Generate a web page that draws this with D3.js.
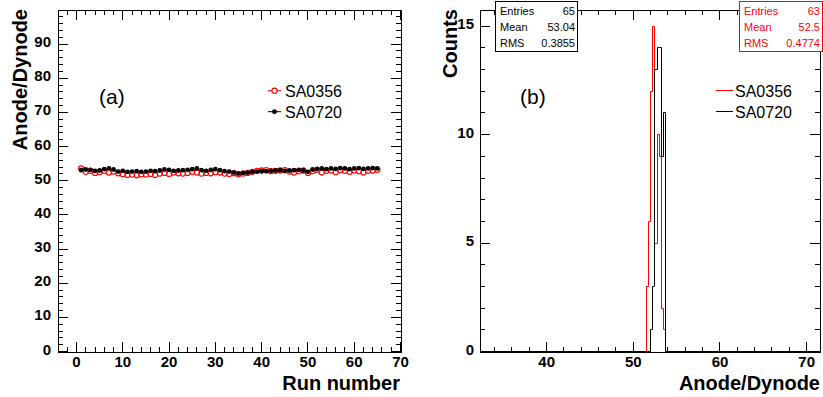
<!DOCTYPE html>
<html><head><meta charset="utf-8">
<script src="https://cdn.jsdelivr.net/npm/d3@7"></script>
<style>
html,body{margin:0;padding:0;background:#fff;}
svg{display:block;font-family:"Liberation Sans",Arial,sans-serif;}
</style></head>
<body>
<svg id="c" width="823" height="397"></svg>
<script>
// ---------- data ----------
const runs = d3.range(1, 66);
const sa0356Ratio = [53.6,52.6,52.9,52.3,52.5,52.9,52.4,52.7,52.2,51.9,
  51.7,51.8,51.6,51.9,51.8,52.0,51.7,52.1,52.3,52.0,
  52.4,52.2,52.1,52.3,52.6,52.4,52.1,52.3,52.2,52.5,
  52.4,52.1,52.0,52.2,51.9,52.1,52.3,52.6,52.9,53.0,
  53.1,52.8,52.9,53.0,53.1,52.7,52.4,52.8,53.0,52.3,
  52.8,53.2,52.4,52.9,53.0,52.5,53.1,52.9,52.6,53.0,
  52.8,52.4,52.9,53.0,53.2];
const sa0720Ratio = [53.1,53.3,53.2,52.9,53.0,53.4,53.6,53.3,52.7,52.9,
  52.6,52.7,52.8,52.6,52.7,52.9,52.8,53.0,53.3,53.2,
  52.9,53.0,53.1,53.2,53.4,53.6,53.1,52.9,53.2,53.4,
  53.1,52.8,52.7,52.4,52.1,52.3,52.4,52.6,52.7,52.8,
  52.8,52.9,53.0,53.1,52.9,53.0,53.1,53.2,53.0,52.6,
  53.3,53.5,53.6,53.4,53.6,53.5,53.7,53.6,53.4,53.6,
  53.7,53.5,53.6,53.7,53.6];
// histogram bins (low edges + last upper edge) and counts
const sa0356Edges = [51.5,51.75,52.0,52.25,52.5,52.75,53.0,53.25,53.5,53.75];
const sa0356Counts = [3,6,12,15,5,10,9,2,1];
const sa0720Edges = [52.0,52.25,52.5,52.75,53.0,53.25,53.5,53.75];
const sa0720Counts = [1,3,13,14,14,9,11];
const statsSA0720 = [["Entries","65"],["Mean","53.04"],["RMS","0.3855"]];
const statsSA0356 = [["Entries","63"],["Mean","52.5"],["RMS","0.4774"]];
const leftYTicks = [0,10,20,30,40,50,60,70,80,90];
const leftXTicks = [0,10,20,30,40,50,60,70];
const rightXTicks = [40,50,60,70];
const rightYTicks = [0,5,10,15];
const seriesNames = ["SA0356","SA0720"];

// ---------- layout ----------
const svg = d3.select("#c");
const RED = "#ff0000";
const topY = 10, botY = 351.5;
const xL = d3.scaleLinear([-4, 70], [58, 400.5]);
const yL = d3.scaleLinear([0, 100], [botY, topY]);
const xR = d3.scaleLinear([32.31, 71.54], [480, 820]);
const yR = d3.scaleLinear([0, 15.75], [botY, topY]);

function snap(v){ return Math.round(v - 0.5) + 0.5; }

function drawTicks(g, xs, ys, xMajor, xMinor, yMajor, yMinor){
  const [x0,x1] = xs.range(), [y0,y1] = ys.range();
  const tk = g.append("g").attr("stroke","#000").attr("stroke-width",1).attr("shape-rendering","crispEdges");
  const xt = (vals, len) => vals.forEach(v => {
    const px = snap(xs(v));
    if (px < x0 || px > x1) return;
    tk.append("line").attr("x1",px).attr("x2",px).attr("y1",y0).attr("y2",y0-len);
    tk.append("line").attr("x1",px).attr("x2",px).attr("y1",y1).attr("y2",y1+len);
  });
  const yt = (vals, len) => vals.forEach(v => {
    const py = snap(ys(v));
    if (py > y0 + 0.6 || py < y1 - 0.6) return;
    tk.append("line").attr("x1",x0).attr("x2",x0+len).attr("y1",py).attr("y2",py);
    tk.append("line").attr("x1",x1).attr("x2",x1-len).attr("y1",py).attr("y2",py);
  });
  xt(xMinor, 5); xt(xMajor, 10); yt(yMinor, 5); yt(yMajor, 10);
  g.append("rect").attr("x",snap(x0)).attr("y",snap(y1)).attr("width",Math.round(x1-x0)).attr("height",Math.round(y0-y1))
    .attr("fill","none").attr("stroke","#000").attr("shape-rendering","crispEdges");
}

// ---------- left panel ----------
const gL = svg.append("g");
gL.append("g").selectAll("circle").data(runs).join("circle")
  .attr("cx", (d,i) => xL(d)).attr("cy", (d,i) => yL(sa0356Ratio[i]))
  .attr("r", 2.6).attr("fill","none").attr("stroke",RED).attr("stroke-width",1.1);
gL.append("g").selectAll("circle").data(runs).join("circle")
  .attr("cx", (d,i) => xL(d)).attr("cy", (d,i) => yL(sa0720Ratio[i]))
  .attr("r", 2.4).attr("fill","#000");

drawTicks(gL, xL, yL, leftXTicks, d3.range(-4, 71, 2), leftYTicks, d3.range(0, 101, 2));

gL.append("g").attr("font-size",15).attr("font-weight","bold").attr("text-anchor","end")
  .selectAll("text").data(leftYTicks).join("text")
  .attr("x", 51).attr("y", d => yL(d) + 3).text(d => d);
gL.append("g").attr("font-size",15).attr("font-weight","bold").attr("text-anchor","middle")
  .selectAll("text").data(leftXTicks).join("text")
  .attr("x", d => xL(d)).attr("y", 367).text(d => d);

gL.append("text").attr("font-size",20).attr("font-weight","bold").attr("text-anchor","end")
  .attr("x", 400).attr("y", 390).text("Run number");
gL.append("text").attr("font-size",20).attr("font-weight","bold").attr("text-anchor","end")
  .attr("transform","translate(27,9) rotate(-90)").text("Anode/Dynode");
gL.append("text").attr("font-size",21).attr("x", 99).attr("y", 104).text("(a)");

const legL = gL.append("g");
[[RED, true, 96.5],["#000", false, 117.5]].forEach(([c, open, by], i) => {
  const cy = by - 5.8;
  legL.append("line").attr("x1",268).attr("x2",281).attr("y1",cy).attr("y2",cy).attr("stroke",c);
  if (open) legL.append("circle").attr("cx",274.5).attr("cy",cy).attr("r",2.6).attr("fill","#fff").attr("stroke",c).attr("stroke-width",1.1);
  else legL.append("circle").attr("cx",274.5).attr("cy",cy).attr("r",2.4).attr("fill",c);
  legL.append("text").attr("font-size",16).attr("x",285).attr("y",by).text(seriesNames[i]);
});

// ---------- right panel ----------
const gR = svg.append("g");
function histPath(edges, counts){
  const [a,b] = xR.domain();
  const pts = [[xR(a), yR(0)], [xR(edges[0]), yR(0)]];
  counts.forEach((c,i) => {
    pts.push([xR(edges[i]), yR(c)]);
    pts.push([xR(edges[i+1]), yR(c)]);
  });
  pts.push([xR(edges[edges.length-1]), yR(0)]);
  pts.push([xR(b), yR(0)]);
  return d3.line()(pts.map(p => [snap(p[0]), snap(p[1])]));
}
gR.append("path").attr("d", histPath(sa0356Edges, sa0356Counts)).attr("fill","none").attr("stroke",RED).attr("stroke-width",1);
gR.append("path").attr("d", histPath(sa0720Edges, sa0720Counts)).attr("fill","none").attr("stroke","#000").attr("stroke-width",1);

drawTicks(gR, xR, yR, rightXTicks, d3.range(34, 72, 2), rightYTicks, d3.range(0, 16, 1));

gR.append("g").attr("font-size",15).attr("font-weight","bold").attr("text-anchor","end")
  .selectAll("text").data(rightYTicks).join("text")
  .attr("x", 474).attr("y", d => yR(d) + 3).text(d => d);
gR.append("g").attr("font-size",15).attr("font-weight","bold").attr("text-anchor","middle")
  .selectAll("text").data(rightXTicks).join("text")
  .attr("x", d => xR(d)).attr("y", 367).text(d => d);
gR.append("text").attr("font-size",20).attr("font-weight","bold").attr("text-anchor","end")
  .attr("x", 820).attr("y", 390).text("Anode/Dynode");
gR.append("text").attr("font-size",20).attr("font-weight","bold").attr("text-anchor","end")
  .attr("transform","translate(457,9) rotate(-90)").text("Counts");
gR.append("text").attr("font-size",21).attr("x", 520).attr("y", 104).text("(b)");

[[RED, 96.5],["#000", 117.5]].forEach(([c, by], i) => {
  const cy = snap(by - 5.8);
  gR.append("line").attr("x1",716).attr("x2",733).attr("y1",cy).attr("y2",cy).attr("stroke",c).attr("shape-rendering","crispEdges");
  gR.append("text").attr("font-size",16).attr("x",735).attr("y",by).text(seriesNames[i]);
});

function statBox(x0, x1, rows, color){
  const g = svg.append("g");
  g.append("rect").attr("x", x0+0.5).attr("y", 1.5).attr("width", x1-x0).attr("height", 50)
    .attr("fill","#fff").attr("stroke",color).attr("shape-rendering","crispEdges");
  rows.forEach(([k,v], i) => {
    const by = 15 + i*16;
    g.append("text").attr("font-size",11).attr("fill",color).attr("x", x0+5).attr("y", by).text(k);
    g.append("text").attr("font-size",11).attr("fill",color).attr("text-anchor","end").attr("x", x1-2).attr("y", by).text(v);
  });
}
statBox(495, 577, statsSA0720, "#000");
statBox(739, 822, statsSA0356, RED);
</script>
</body></html>
